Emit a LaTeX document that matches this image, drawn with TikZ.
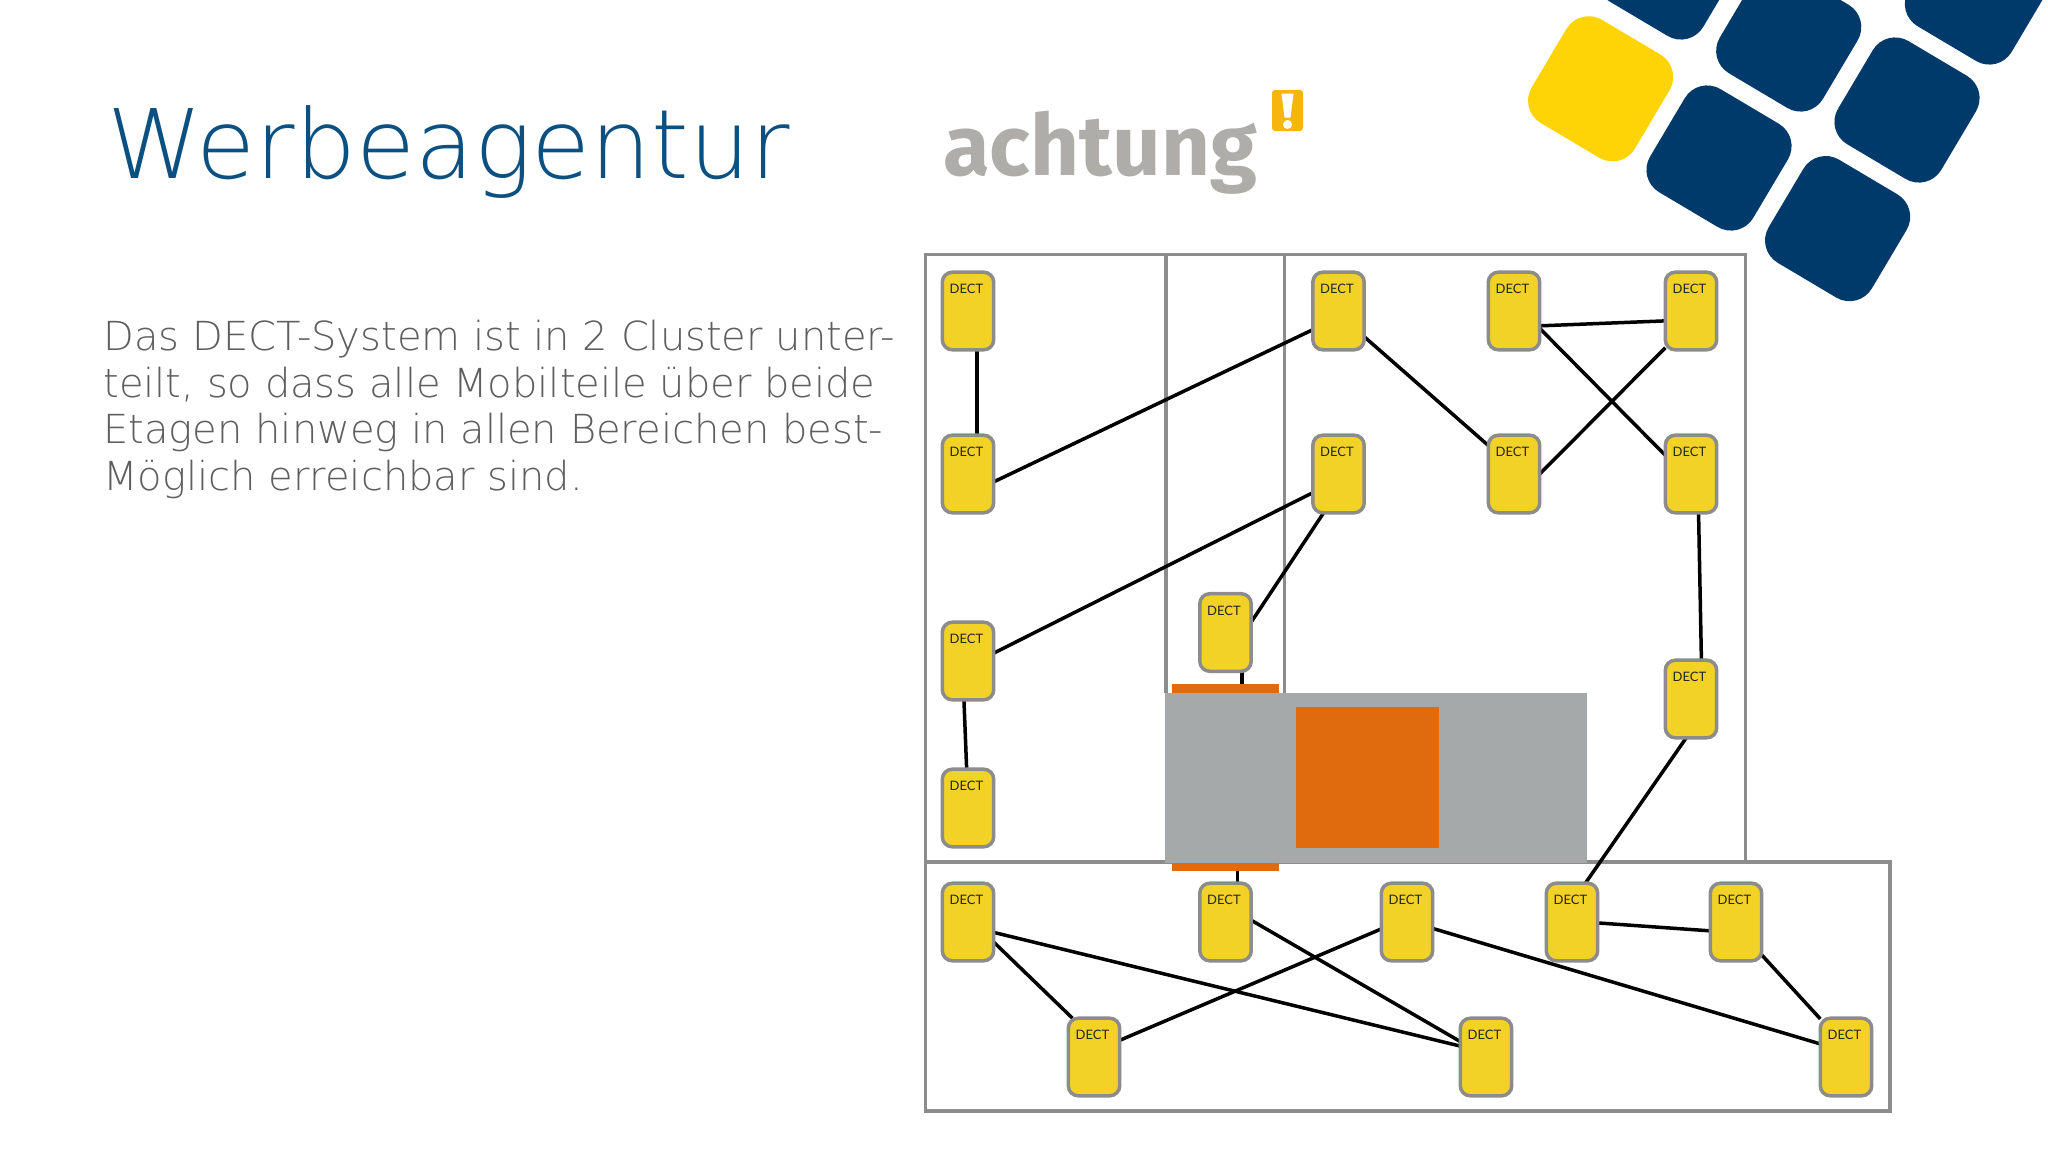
\documentclass[tikz,border=0pt]{standalone}
\usepackage{fontspec}
\usetikzlibrary{calc}
\setmainfont{DejaVu Sans}
\newfontfamily\titlefont{DejaVu Sans ExtraLight}
\newfontfamily\dectfont{Lato}
\newfontfamily\logofont{Fira Sans}[BoldFont={Fira Sans Bold}]
\definecolor{navy}{HTML}{003A6B}
\definecolor{sunny}{HTML}{FFD406}
\definecolor{dectfill}{HTML}{F3D227}
\definecolor{framegrey}{HTML}{8C8C8C}
\definecolor{blockgrey}{HTML}{A6A9A9}
\definecolor{blockorange}{HTML}{E06A0E}
\definecolor{titleblue}{HTML}{0B5080}
\definecolor{bodygrey}{HTML}{5E5E5E}
\definecolor{logogrey}{HTML}{AEADA9}
\definecolor{logoyellow}{HTML}{F9B50F}
\pgfdeclarelayer{frames}
\pgfdeclarelayer{conn}
\pgfsetlayers{frames,conn,main}
\newcommand{\dectlabel}{\smash{\raisebox{8.7pt}{\hspace*{-1.6pt}\dectfont\fontsize{6.5}{8}\selectfont DECT}}}
\tikzset{
  dectbox/.style={draw=framegrey,line width=1.75pt,fill=dectfill,rounded corners=5pt,
    minimum width=25.7pt,minimum height=38.8pt,inner sep=0pt,outer sep=0pt,text=black!85},
  link/.style={draw=black,line width=1.75pt},
  framebox/.style={draw=framegrey,line width=1.75pt,inner sep=0pt,outer sep=0pt},
  tile/.style={minimum width=60pt,minimum height=60pt,inner sep=0pt,rounded corners=13pt,rotate=-30.7},
  solid block/.style={inner sep=0pt,outer sep=0pt},
}
\begin{document}
\begin{tikzpicture}[x=0.5pt,y=-0.5pt]
\useasboundingbox (0,0) rectangle (2048,1152);
\begin{scope}
\clip (0,0) rectangle (2048,1152);
\node[tile,fill=sunny] (ty) at (1600.6,88.8) {};
\node[tile,fill=navy] (t1) at (1719,158) {};
\node[tile,fill=navy] (t2) at (1837.6,228.6) {};
\node[tile,fill=navy] (t3) at (1907,110) {};
\node[tile,fill=navy] (t4) at (1788.7,39) {};
\node[tile,fill=navy] (t5) at (1669,-33) {};
\node[tile,fill=navy] (t6) at (1977.4,-8) {};
\end{scope}
% texts
\node[anchor=base west,inner sep=0pt,text=titleblue,font=\titlefont\fontsize{48}{50}\selectfont] (title) at (107,178) {Werbeagentur};
\node[anchor=north west,inner sep=0pt,align=left,text=bodygrey,font=\titlefont\fontsize{20}{23.25}\selectfont] (body) at (103,320) {Das DECT-System ist in 2 Cluster unter-\\teilt, so dass alle Mobilteile über beide\\Etagen hinweg in allen Bereichen best-\\Möglich erreichbar sind.};
% logo
\node[anchor=base west,inner sep=0pt,text=logogrey,font=\logofont\bfseries\fontsize{42.5}{50}\selectfont] (logo) at (943,175) {achtung};
\node[fill=logoyellow,minimum width=15.5pt,minimum height=20.5pt,inner sep=0pt,rounded corners=1.5pt] (tag) at (1287.5,110.5) {};
\fill[white] ($(tag.center)+(-6,-17)$) -- ++(12,0) -- ++(-3,24) -- ++(-6,0) -- cycle;
\fill[white] ($(tag.center)+(0,14)$) circle (4.5);
% frames and block
\begin{pgfonlayer}{frames}
\node[framebox,minimum width=410pt,minimum height=303.75pt,anchor=north west] (fmain) at (925.5,254.5) {};
\node[framebox,minimum width=482.25pt,minimum height=124.5pt,anchor=north west] (flow) at (925.5,862) {};
\coordinate (v1t) at (1166,254.5);
\coordinate (v1b) at (1166,693);
\coordinate (v2t) at (1284.5,254.5);
\coordinate (v2b) at (1284.5,693);
\draw[framegrey,line width=1.75pt] (v1t) -- (v1b) (v2t) -- (v2b);
\node[solid block,fill=blockorange,minimum width=53.25pt,minimum height=4.5pt,anchor=south west] (stript) at (1172,693) {};
\node[solid block,fill=blockorange,minimum width=53.25pt,minimum height=4pt,anchor=north west] (stripb) at (1172,863) {};
\node[solid block,fill=blockgrey,minimum width=211pt,minimum height=85pt,anchor=north west] (block) at (1165,693) {};
\node[solid block,fill=blockorange,minimum width=71.5pt,minimum height=70.5pt,anchor=north west] (core) at (1296,707) {};
\end{pgfonlayer}
% devices
\foreach \n/\x/\y in {A1/968/311,A2/968/474,A3/968/661,A4/968/808,C/1225.5/632.5,
  B1/1338.5/311,B2/1338.5/474,G1/1514/311,G2/1514/474,D1/1691/311,D2/1691/474,D3/1691/699,
  E1/968/922,E2/1225.5/922,E3/1407/922,E4/1572/922,E5/1736/922,
  F1/1094/1057,F2/1486/1057,F3/1846/1057}
  {\node[dectbox] (\n) at (\x,\y) {\dectlabel};}
% connectors
\begin{pgfonlayer}{conn}
\foreach \a/\b in {A1.-77/A2.77, A2.-17/B1.216, A3.17/B2.216, A3.-96/A4.92, C.22/B2.-111,
  B1.-45/G2.132, G1.-30/D1.201, G1.-34/D2.144, G2.0/D1.235, D2.-79/D3.75, D3.-97/E4.71,
  E1.-38/F1.119, E1.-22/F2.157, E2.4/F2.149, F1.33/E3.195, E3.-14/F3.153, E4.-2/E5.199, E5.-52/F3.124}
  {\draw[link] (\a) -- (\b);}
\draw[link] (C.-67) -- (C.-67 |- stript.north);
\draw[link] (stripb.south -| E2.73) -- (E2.73);
\end{pgfonlayer}
\end{tikzpicture}
\end{document}
